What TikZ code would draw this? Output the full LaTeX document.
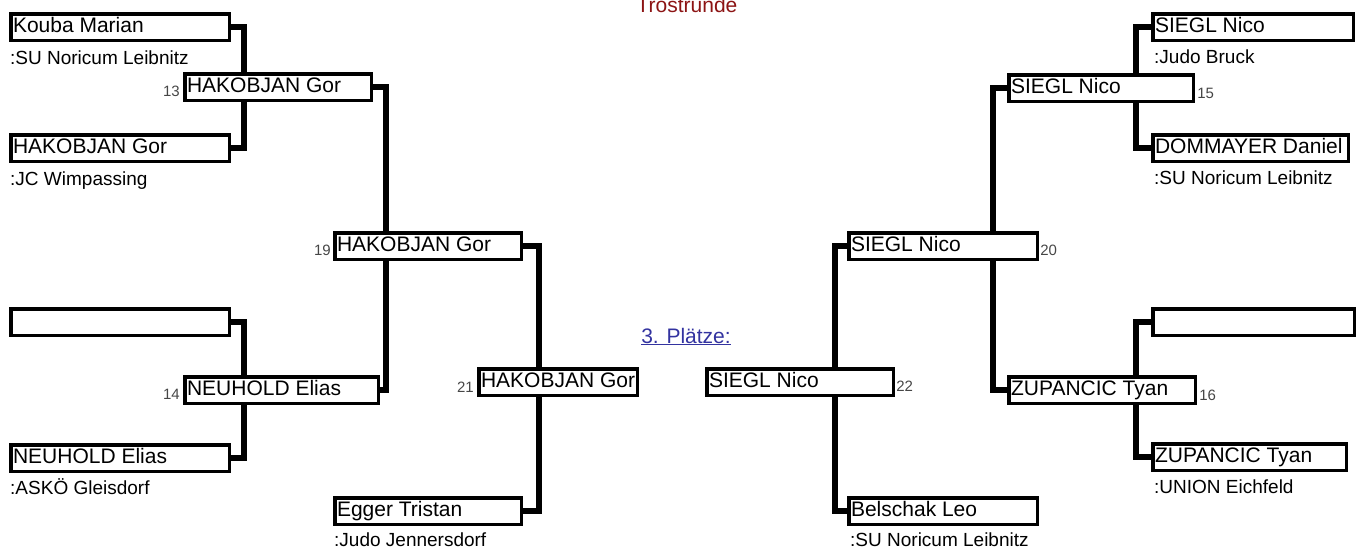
\documentclass[tikz,border=0pt]{standalone}
\usepackage{fontspec}
\setmainfont{Liberation Sans}
\usetikzlibrary{calc}
\definecolor{roundred}{RGB}{140,20,20}
\definecolor{linkblue}{RGB}{51,51,160}
\definecolor{numgray}{RGB}{70,70,70}
\tikzset{
	fighter/.style={draw, line width=3.5pt, anchor=north west, minimum height=26.5pt,
		inner xsep=2.3pt, inner ysep=0pt,
		execute at begin node={\hbox to #1\bgroup}, execute at end node={\hss\egroup},
		text height=15pt, text depth=4pt, font=\fontsize{21}{24}\selectfont},
	club/.style={anchor=base west, inner sep=0pt, text depth=0pt, font=\fontsize{19}{22}\selectfont},
	fightno/.style={inner sep=0pt, text=numgray, font=\fontsize{15}{18}\selectfont},
	bracket/.style={line width=6pt}
}
\begin{document}
\begin{tikzpicture}[x=1pt,y=-1pt]
		\useasboundingbox (0,0) rectangle (1363,547);
		
		% headings
		\node[text=roundred, anchor=base, inner sep=0pt, font=\fontsize{21}{24}\selectfont] (title) at (687,12.5) {Trostrunde};
		\node[text=linkblue, anchor=base, inner sep=0pt, font=\fontsize{21}{24}\selectfont] (places) at (686,343) {\underline{3. Plätze:}};
		
		% left half
		\node[fighter=214pt] (L1) at (9,12) {Kouba Marian};
		\node[fighter=214pt] (L2) at (9,133) {HAKOBJAN Gor};
		\node[fighter=214pt] (L3) at (9,307) {};
		\node[fighter=214pt] (L4) at (9,443) {NEUHOLD Elias};
		\node[fighter=182pt] (Q13) at (183,72) {HAKOBJAN Gor};
		\node[fighter=189pt] (Q14) at (183,375) {NEUHOLD Elias};
		\node[fighter=182pt] (S19) at (333,231) {HAKOBJAN Gor};
		\node[fighter=182pt] (E1) at (333,496) {Egger Tristan};
		\node[fighter=154pt] (F21) at (477,367) {HAKOBJAN Gor};
		
		% right half
		\node[fighter=196pt] (R1) at (1151,12) {SIEGL Nico};
		\node[fighter=191pt] (R2) at (1151,133) {DOMMAYER Daniel};
		\node[fighter=197pt] (R3) at (1151,307) {};
		\node[fighter=189pt] (R4) at (1151,442) {ZUPANCIC Tyan};
		\node[fighter=180pt] (Q15) at (1007,73) {SIEGL Nico};
		\node[fighter=182pt] (Q16) at (1007,375) {ZUPANCIC Tyan};
		\node[fighter=184pt] (S20) at (847,231) {SIEGL Nico};
		\node[fighter=184pt] (B1) at (847,496) {Belschak Leo};
		\node[fighter=182pt] (F22) at (705,367) {SIEGL Nico};
		
		% clubs
		\node[club] (cL1) at ($(L1.south west)+(1,22)$) {:SU Noricum Leibnitz};
		\node[club] (cL2) at ($(L2.south west)+(1,22)$) {:JC Wimpassing};
		\node[club] (cL4) at ($(L4.south west)+(1,21)$) {:ASKÖ Gleisdorf};
		\node[club] (cE1) at ($(E1.south west)+(1,20)$) {:Judo Jennersdorf};
		\node[club] (cR1) at ($(R1.south west)+(3,21)$) {:Judo Bruck};
		\node[club] (cR2) at ($(R2.south west)+(3,21)$) {:SU Noricum Leibnitz};
		\node[club] (cR4) at ($(R4.south west)+(3,21)$) {:UNION Eichfeld};
		\node[club] (cB1) at ($(B1.south west)+(3,20)$) {:SU Noricum Leibnitz};
		
		% fight numbers
		\node[fightno, anchor=base east] (n13) at ($(Q13.south west)+(-3,-6)$) {13};
		\node[fightno, anchor=base east] (n14) at ($(Q14.south west)+(-3,-6)$) {14};
		\node[fightno, anchor=base east] (n19) at ($(S19.south west)+(-2,-6)$) {19};
		\node[fightno, anchor=base east] (n21) at ($(F21.south west)+(-3,-5)$) {21};
		\node[fightno, anchor=base west] (n15) at ($(Q15.south east)+(2,-5)$) {15};
		\node[fightno, anchor=base west] (n16) at ($(Q16.south east)+(2,-5)$) {16};
		\node[fightno, anchor=base west] (n20) at ($(S20.south east)+(1,-6)$) {20};
		\node[fightno, anchor=base west] (n22) at ($(F22.south east)+(1,-6)$) {22};
		
		% bracket lines
		\coordinate (v13) at (244,0);
		\coordinate (v19) at (386,0);
		\coordinate (v21) at (539,0);
		\coordinate (v22) at (835,0);
		\coordinate (v20) at (993,0);
		\coordinate (v15) at (1136,0);
		
		\draw[bracket] (L1.east) -| (v13 |- Q13.north);
		\draw[bracket] (L2.east) -| (v13 |- Q13.south);
		\draw[bracket] (L3.east) -| (v13 |- Q14.north);
		\draw[bracket] (L4.east) -| (v13 |- Q14.south);
		\draw[bracket] (Q13.east) -| (v19 |- S19.north);
		\draw[bracket] (Q14.east) -| (v19 |- S19.south);
		\draw[bracket] (S19.east) -| (v21 |- F21.north);
		\draw[bracket] (E1.east) -| (v21 |- F21.south);
		
		\draw[bracket] (R1.west) -| (v15 |- Q15.north);
		\draw[bracket] (R2.west) -| (v15 |- Q15.south);
		\draw[bracket] (R3.west) -| (v15 |- Q16.north);
		\draw[bracket] (R4.west) -| (v15 |- Q16.south);
		\draw[bracket] (Q15.west) -| (v20 |- S20.north);
		\draw[bracket] (Q16.west) -| (v20 |- S20.south);
		\draw[bracket] (S20.west) -| (v22 |- F22.north);
		\draw[bracket] (B1.west) -| (v22 |- F22.south);
	\end{tikzpicture}
\end{document}
